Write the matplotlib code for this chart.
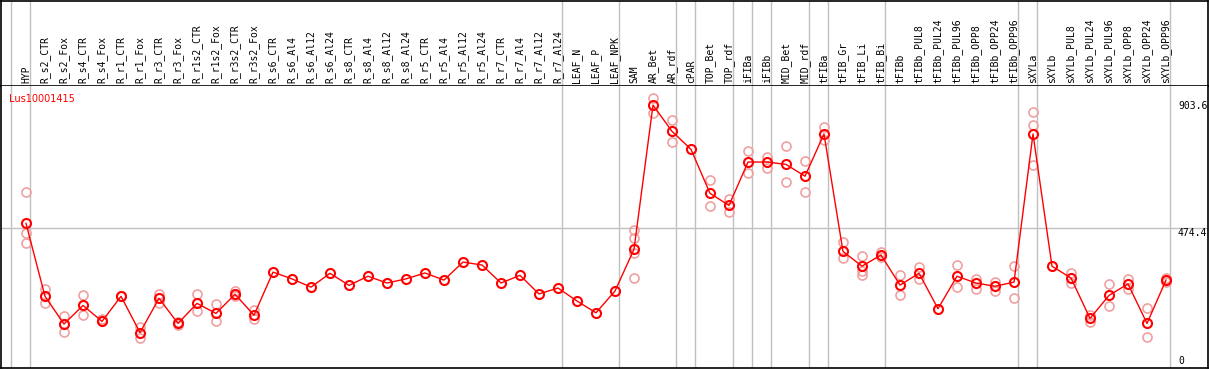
import numpy as np
import matplotlib.pyplot as plt

####### DATA ######

categories = ['HYP', 'R_s2_CTR', 'R_s2_Fox', 'R_s4_CTR', 'R_s4_Fox', 'R_r1_CTR', 'R_r1_Fox',
              'R_r3_CTR', 'R_r3_Fox', 'R_r1s2_CTR', 'R_r1s2_Fox', 'R_r3s2_CTR', 'R_r3s2_Fox',
              'R_s6_CTR', 'R_s6_Al4', 'R_s6_Al12', 'R_s6_Al24', 'R_s8_CTR', 'R_s8_Al4',
              'R_s8_Al12', 'R_s8_Al24', 'R_r5_CTR', 'R_r5_Al4', 'R_r5_Al12', 'R_r5_Al24',
              'R_r7_CTR', 'R_r7_Al4', 'R_r7_Al12', 'R_r7_Al24', 'LEAF_N', 'LEAF_P', 'LEAF_NPK',
              'SAM', 'AR_Bet', 'AR_rdf', 'cPAR', 'TOP_Bet', 'TOP_rdf', 'iFIBa', 'iFIBb',
              'MID_Bet', 'MID_rdf', 'tFIBa', 'tFIB_Gr', 'tFIB_Li', 'tFIB_Bi', 'tFIBb',
              'tFIBb_PUL8', 'tFIBb_PUL24', 'tFIBb_PUL96', 'tFIBb_OPP8', 'tFIBb_OPP24',
              'tFIBb_OPP96', 'sXYLa', 'sXYLb', 'sXYLb_PUL8', 'sXYLb_PUL24', 'sXYLb_PUL96',
              'sXYLb_OPP8', 'sXYLb_OPP24', 'sXYLb_OPP96']

mean_values = [490, 243, 149, 212, 158, 243, 120, 236, 151, 219, 185, 250, 179,
               325, 302, 274, 321, 280, 311, 288, 302, 322, 298, 359, 349,
               288, 314, 251, 271, 227, 187, 261,
               402, 891, 802, 741, 592, 551, 698, 698, 690, 650, 793,
               395, 345, 383, 281, 321, 201, 311, 288, 277, 291,
               793, 345, 305, 168, 246, 285, 151, 298]

replicates = [[595, 456, 423], [268, 219], [175, 123], [246, 179], [165, 160], [243, 243],
              [140, 103], [252, 221], [156, 146], [250, 192], [216, 158], [261, 244], [197, 165],
              [], [], [], [], [], [], [], [], [], [], [], [],
              [], [], [], [], [], [], [],
              [468, 440, 391, 304], [916, 863], [839, 765], [], [637, 548], [574, 530],
              [735, 660], [716, 678], [751, 629], [702, 595], [817, 773],
              [426, 372], [379, 330, 316], [394, 375], [315, 247], [341, 302], [],
              [348, 273], [302, 268], [292, 260], [346, 236],
              [866, 822, 687], [], [321, 289], [180, 156], [285, 209], [301, 269],
              [202, 104], [304, 292]]

# Group separators (drawn just after these category indexes)
separators = [-1, 0, 28, 31, 34, 35, 37, 38, 39, 41, 42, 45, 52, 53, 60]

y_ticks = [0, 474.4, 903.6]
gene_name = 'Lus10001415'

####### PLOT #######

W, H = 1209, 370
fig = plt.figure(figsize=(W / 100, H / 100), dpi=100)

x = np.arange(len(categories))
x_min = (1 - 26) / 19
x_max = (1208 - 26) / 19
y_max = (368 - 86) * 3.389

left = 1 / W
width = 1207 / W
ax_head = fig.add_axes([left, (H - 86) / H, width, 85.5 / H])
ax = fig.add_axes([left, (H - 368) / H, width, 282 / H])

grey = '#c0c0c0'
for a in (ax_head, ax):
    a.set_xlim(x_min, x_max)
    a.set_xticks([])
    a.set_yticks([])
    for s in a.spines.values():
        s.set_color('black')
        s.set_linewidth(1.2)
    for sep in separators:
        a.axvline(sep + 0.22, color=grey, linewidth=1, zorder=0)
ax.spines['top'].set_visible(False)
ax_head.set_ylim(0, 1)

# Rotated category labels
for i, name in enumerate(categories):
    ax_head.text(i, 0.03, name, rotation=90, ha='center', va='bottom',
                 fontsize=7, family='DejaVu Sans Mono')

ax.set_ylim(0, y_max)
ax.axhline(y_ticks[1], color=grey, linewidth=1, zorder=0)

# Replicates
for i, reps in enumerate(replicates):
    ax.plot([i] * len(reps), reps, linestyle='none', marker='o', markersize=6.5,
            markerfacecolor='none', markeredgecolor='#f0a0a0', markeredgewidth=1.2, zorder=2)

# Mean line
ax.plot(x, mean_values, linestyle='-', color='red', linewidth=1, marker='o', markersize=6.5,
        markerfacecolor='none', markeredgecolor='red', markeredgewidth=1.5, zorder=3)

# Y labels drawn inside at the right
x_lab = (1178 - 26) / 19
ax.text(x_lab, y_ticks[2], f'{y_ticks[2]:.1f}', va='top', ha='left', fontsize=7,
        family='DejaVu Sans Mono', clip_on=True)
ax.text(x_lab, y_ticks[1], f'{y_ticks[1]:.1f}', va='top', ha='left', fontsize=7,
        family='DejaVu Sans Mono', clip_on=True)
ax.text(x_lab, 8, '0', va='bottom', ha='left', fontsize=7, family='DejaVu Sans Mono')

ax.text(0.007, 0.97, gene_name, transform=ax.transAxes, color='red', fontsize=7,
        va='top', ha='left')

fig.savefig('out.png', dpi=100)
